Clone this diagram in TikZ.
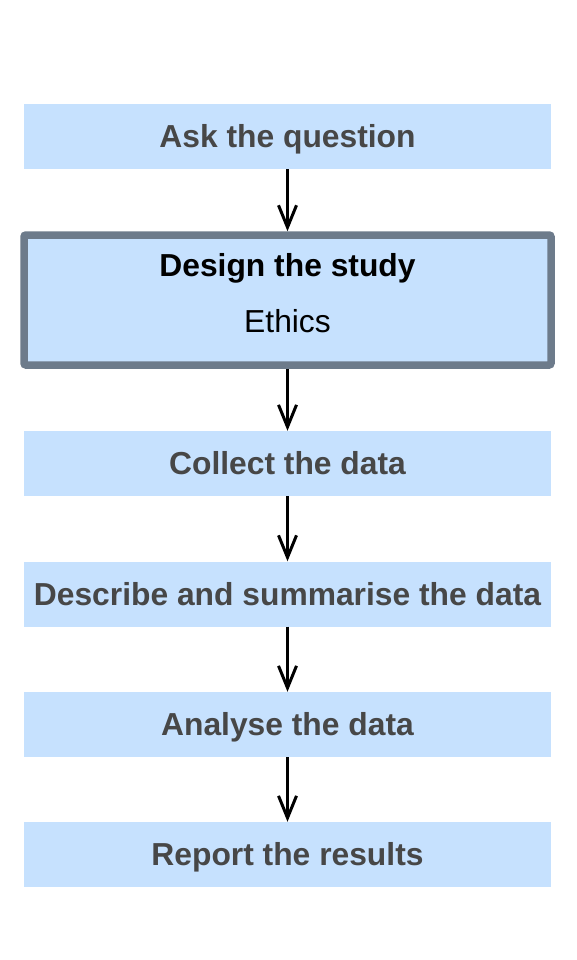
\documentclass[tikz,border=0pt]{standalone}
\usepackage{fontspec}
\setmainfont{Liberation Sans}
\usetikzlibrary{arrows.meta}
\definecolor{boxfill}{HTML}{C6E1FE}
\definecolor{boxtext}{HTML}{474747}
\definecolor{boxedge}{HTML}{6D7B8B}
\tikzset{
  stepbox/.style={fill=boxfill,minimum width=527pt,minimum height=65pt,
    inner sep=0pt,text height=24pt,text depth=1.5pt,text=boxtext,
    font=\fontsize{31.8}{36}\selectfont\bfseries},
  keybox/.style={fill=boxfill,draw=boxedge,line width=7.5pt,rounded corners=2pt,
    minimum width=527pt,minimum height=130pt},
  flow/.style={-{Straight Barb[length=22pt,width=18pt,line width=3pt]},line width=3pt}
}
\begin{document}
\begin{tikzpicture}[x=1pt,y=-1pt]
  \useasboundingbox (0,0) rectangle (576,960);
  \node [stepbox] (ask) at (287.5,136.5) {Ask the question};
  \node [keybox] (design) at (287.5,300) {};
  \node [anchor=base,font=\fontsize{31.8}{36}\selectfont\bfseries] (designtitle) at (287.5,276) {Design the study};
  \node [anchor=base,font=\fontsize{31.8}{36}\selectfont] (ethics) at (287.5,332.5) {Ethics};
  \node [stepbox] (collect) at (287.5,463.5) {Collect the data};
  \node [stepbox] (describe) at (287.5,594) {Describe and summarise the data};
  \node [stepbox] (analyse) at (287.5,724.5) {Analyse the data};
  \node [stepbox] (report) at (287.5,854.5) {Report the results};
  \draw [flow] (ask.south) -- (design.north);
  \draw [flow] (design.south) -- (collect.north);
  \draw [flow] (collect) -- (describe);
  \draw [flow] (describe) -- (analyse);
  \draw [flow] (analyse) -- (report);
\end{tikzpicture}
\end{document}
